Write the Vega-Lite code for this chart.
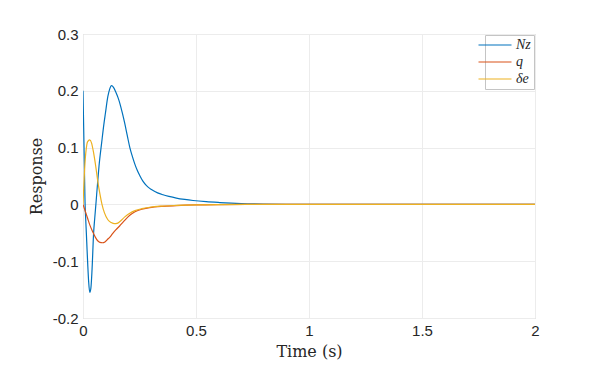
{
  "$schema": "https://vega.github.io/schema/vega-lite/v6.json",
  "width": 452,
  "height": 284,
  "autosize": {"type": "none"},
  "padding": {"left": 83, "top": 34, "right": 63, "bottom": 52},
  "background": "white",
  "config": {
    "view": {"stroke": "#c4c4c4", "strokeWidth": 1},
    "axis": {
      "domain": false,
      "gridColor": "#ececec",
      "gridWidth": 1,
      "tickSize": 0,
      "labelFont": "Liberation Sans",
      "labelFontSize": 15,
      "labelColor": "#262626",
      "titleFont": "DejaVu Serif",
      "titleFontWeight": "normal",
      "titleFontSize": 16,
      "titleColor": "#262626"
    }
  },
  "datasets": {
    "resp": [
      {"t": 0, "v": 0.2, "s": "Nz"},
      {"t": 0.003, "v": 0.135, "s": "Nz"},
      {"t": 0.006, "v": 0.068, "s": "Nz"},
      {"t": 0.009, "v": 0.004, "s": "Nz"},
      {"t": 0.012, "v": -0.026, "s": "Nz"},
      {"t": 0.015, "v": -0.052, "s": "Nz"},
      {"t": 0.018, "v": -0.08, "s": "Nz"},
      {"t": 0.021, "v": -0.106, "s": "Nz"},
      {"t": 0.025, "v": -0.136, "s": "Nz"},
      {"t": 0.03, "v": -0.155, "s": "Nz"},
      {"t": 0.035, "v": -0.147, "s": "Nz"},
      {"t": 0.04, "v": -0.115, "s": "Nz"},
      {"t": 0.047, "v": -0.05, "s": "Nz"},
      {"t": 0.052, "v": -0.024, "s": "Nz"},
      {"t": 0.057, "v": 0.0, "s": "Nz"},
      {"t": 0.064, "v": 0.035, "s": "Nz"},
      {"t": 0.071, "v": 0.068, "s": "Nz"},
      {"t": 0.083, "v": 0.11, "s": "Nz"},
      {"t": 0.092, "v": 0.14, "s": "Nz"},
      {"t": 0.099, "v": 0.16, "s": "Nz"},
      {"t": 0.11, "v": 0.19, "s": "Nz"},
      {"t": 0.118, "v": 0.203, "s": "Nz"},
      {"t": 0.126, "v": 0.209, "s": "Nz"},
      {"t": 0.135, "v": 0.206, "s": "Nz"},
      {"t": 0.145, "v": 0.198, "s": "Nz"},
      {"t": 0.155, "v": 0.188, "s": "Nz"},
      {"t": 0.163, "v": 0.178, "s": "Nz"},
      {"t": 0.174, "v": 0.161, "s": "Nz"},
      {"t": 0.185, "v": 0.142, "s": "Nz"},
      {"t": 0.196, "v": 0.121, "s": "Nz"},
      {"t": 0.207, "v": 0.1005, "s": "Nz"},
      {"t": 0.218, "v": 0.085, "s": "Nz"},
      {"t": 0.229, "v": 0.0714, "s": "Nz"},
      {"t": 0.24, "v": 0.06, "s": "Nz"},
      {"t": 0.251, "v": 0.051, "s": "Nz"},
      {"t": 0.265, "v": 0.041, "s": "Nz"},
      {"t": 0.28, "v": 0.0335, "s": "Nz"},
      {"t": 0.295, "v": 0.0282, "s": "Nz"},
      {"t": 0.31, "v": 0.0244, "s": "Nz"},
      {"t": 0.33, "v": 0.0203, "s": "Nz"},
      {"t": 0.354, "v": 0.0169, "s": "Nz"},
      {"t": 0.38, "v": 0.0141, "s": "Nz"},
      {"t": 0.413, "v": 0.0112, "s": "Nz"},
      {"t": 0.45, "v": 0.0088, "s": "Nz"},
      {"t": 0.487, "v": 0.0069, "s": "Nz"},
      {"t": 0.545, "v": 0.0048, "s": "Nz"},
      {"t": 0.605, "v": 0.0033, "s": "Nz"},
      {"t": 0.7, "v": 0.0015, "s": "Nz"},
      {"t": 0.8, "v": 0.0006, "s": "Nz"},
      {"t": 0.9, "v": 0.0002, "s": "Nz"},
      {"t": 1.0, "v": 0.0, "s": "Nz"},
      {"t": 1.5, "v": 0.0, "s": "Nz"},
      {"t": 2.0, "v": 0.0, "s": "Nz"},

      {"t": 0, "v": 0.0, "s": "q"},
      {"t": 0.01, "v": -0.012, "s": "q"},
      {"t": 0.02, "v": -0.024, "s": "q"},
      {"t": 0.03, "v": -0.036, "s": "q"},
      {"t": 0.044, "v": -0.049, "s": "q"},
      {"t": 0.055, "v": -0.058, "s": "q"},
      {"t": 0.065, "v": -0.064, "s": "q"},
      {"t": 0.075, "v": -0.0668, "s": "q"},
      {"t": 0.086, "v": -0.0675, "s": "q"},
      {"t": 0.097, "v": -0.066, "s": "q"},
      {"t": 0.11, "v": -0.061, "s": "q"},
      {"t": 0.118, "v": -0.058, "s": "q"},
      {"t": 0.13, "v": -0.052, "s": "q"},
      {"t": 0.145, "v": -0.045, "s": "q"},
      {"t": 0.162, "v": -0.038, "s": "q"},
      {"t": 0.18, "v": -0.03, "s": "q"},
      {"t": 0.207, "v": -0.019, "s": "q"},
      {"t": 0.23, "v": -0.013, "s": "q"},
      {"t": 0.26, "v": -0.0085, "s": "q"},
      {"t": 0.295, "v": -0.0058, "s": "q"},
      {"t": 0.35, "v": -0.0035, "s": "q"},
      {"t": 0.413, "v": -0.0022, "s": "q"},
      {"t": 0.5, "v": -0.001, "s": "q"},
      {"t": 0.6, "v": -0.0004, "s": "q"},
      {"t": 0.8, "v": 0.0, "s": "q"},
      {"t": 2.0, "v": 0.0, "s": "q"},

      {"t": 0, "v": 0.0, "s": "δe"},
      {"t": 0.005, "v": 0.045, "s": "δe"},
      {"t": 0.01, "v": 0.08, "s": "δe"},
      {"t": 0.015, "v": 0.1, "s": "δe"},
      {"t": 0.02, "v": 0.11, "s": "δe"},
      {"t": 0.03, "v": 0.1135, "s": "δe"},
      {"t": 0.038, "v": 0.108, "s": "δe"},
      {"t": 0.045, "v": 0.095, "s": "δe"},
      {"t": 0.056, "v": 0.068, "s": "δe"},
      {"t": 0.065, "v": 0.042, "s": "δe"},
      {"t": 0.075, "v": 0.018, "s": "δe"},
      {"t": 0.084, "v": 0.0, "s": "δe"},
      {"t": 0.095, "v": -0.015, "s": "δe"},
      {"t": 0.11, "v": -0.027, "s": "δe"},
      {"t": 0.125, "v": -0.032, "s": "δe"},
      {"t": 0.14, "v": -0.034, "s": "δe"},
      {"t": 0.15, "v": -0.0335, "s": "δe"},
      {"t": 0.162, "v": -0.0305, "s": "δe"},
      {"t": 0.185, "v": -0.022, "s": "δe"},
      {"t": 0.207, "v": -0.0155, "s": "δe"},
      {"t": 0.23, "v": -0.011, "s": "δe"},
      {"t": 0.26, "v": -0.0075, "s": "δe"},
      {"t": 0.295, "v": -0.005, "s": "δe"},
      {"t": 0.35, "v": -0.003, "s": "δe"},
      {"t": 0.413, "v": -0.0018, "s": "δe"},
      {"t": 0.5, "v": -0.0008, "s": "δe"},
      {"t": 0.6, "v": -0.0003, "s": "δe"},
      {"t": 0.8, "v": 0.0, "s": "δe"},
      {"t": 2.0, "v": 0.0, "s": "δe"}
    ]
  },
  "data": {"name": "resp"},
  "mark": {"type": "line", "strokeWidth": 1.2, "interpolate": "monotone", "clip": true},
  "encoding": {
    "x": {
      "field": "t",
      "type": "quantitative",
      "scale": {"domain": [0, 2], "nice": false, "zero": false},
      "axis": {
        "title": "Time (s)",
        "values": [0, 0.5, 1, 1.5, 2],
        "labelExpr": "toString(datum.value)",
        "labelPadding": 5,
        "titlePadding": 5,
        "labelFlush": false
      }
    },
    "y": {
      "field": "v",
      "type": "quantitative",
      "scale": {"domain": [-0.2, 0.3], "nice": false, "zero": false},
      "axis": {
        "title": "Response",
        "values": [-0.2, -0.1, 0, 0.1, 0.2, 0.3],
        "labelExpr": "toString(datum.value)",
        "labelPadding": 5,
        "titlePadding": 8
      }
    },
    "color": {
      "field": "s",
      "type": "nominal",
      "scale": {"domain": ["Nz", "q", "δe"], "range": ["#0072BD", "#D95319", "#EDB120"]},
      "legend": {
        "title": null,
        "orient": "top-right",
        "offset": 1,
        "padding": 3,
        "fillColor": "white",
        "strokeColor": "#c4c4c4",
        "symbolType": "M-3,0H3",
        "symbolSize": 121,
        "symbolStrokeWidth": 1.2,
        "labelFont": "Liberation Serif",
        "labelFontStyle": "italic",
        "labelFontSize": 14,
        "labelColor": "#262626",
        "labelOffset": 14,
        "rowPadding": 3
      }
    }
  }
}
